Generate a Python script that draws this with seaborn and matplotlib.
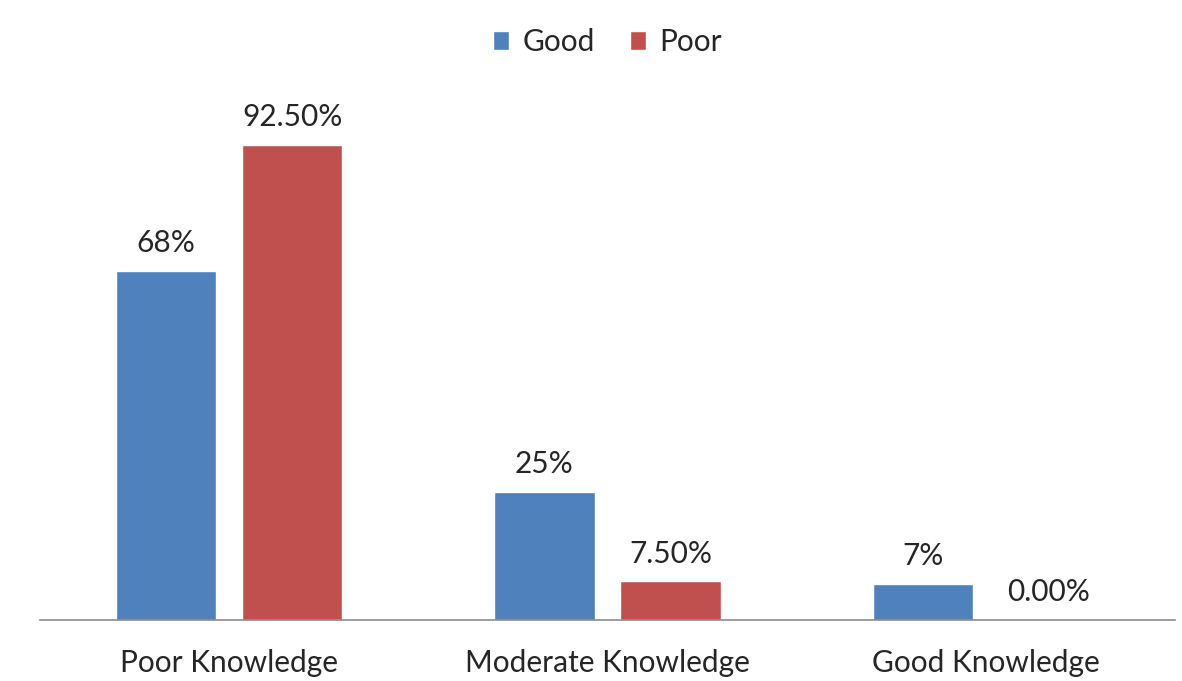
import matplotlib
matplotlib.use("Agg")
import matplotlib.pyplot as plt
import seaborn as sns
import pandas as pd

categories = ["Poor Knowledge", "Moderate Knowledge", "Good Knowledge"]
series = ["Good", "Poor"]
good_values = [68, 25, 7]
poor_values = [92.5, 7.5, 0.0]
good_labels = ["68%", "25%", "7%"]
poor_labels = ["92.50%", "7.50%", "0.00%"]

sns.set_theme(style="white")
plt.rcParams["font.family"] = ["Lato", "DejaVu Sans"]

df = pd.DataFrame({
    "category": categories * 2,
    "series": [series[0]] * 3 + [series[1]] * 3,
    "value": good_values + poor_values,
})

fig = plt.figure(figsize=(11.82, 6.81), dpi=100)
ax = fig.add_axes([40 / 1182, 1 - 620 / 681, 1135 / 1182, 513.5 / 681])
sns.barplot(data=df, x="category", y="value", hue="series", order=categories,
            hue_order=series, palette=["#4F81BD", "#C0504D"], width=0.667,
            gap=0.205, saturation=1, ax=ax, legend=True, errorbar=None)

ax.set_ylim(0, 100)
ax.set_xlim(-0.5, 2.5)
FS = 21.5
for cont, labs in zip(ax.containers, [good_labels, poor_labels]):
    ax.bar_label(cont, labels=labs, padding=10, fontsize=FS, color="#262626")

ax.set_xlabel("")
ax.set_ylabel("")
ax.set_yticks([])
ax.tick_params(axis="x", length=0, pad=21, labelsize=FS, labelcolor="#262626")
for s in ["top", "right", "left"]:
    ax.spines[s].set_visible(False)
ax.spines["bottom"].set_color("#8C8C8C")
ax.spines["bottom"].set_linewidth(1.2)

leg = ax.legend(loc="center", bbox_to_anchor=(0.5, (620 - 42) / 513.5),
                ncol=2, frameon=False, fontsize=FS, handlelength=0.56, handleheight=0.56,
                handletextpad=0.45, columnspacing=1.15, borderpad=0)
for t in leg.get_texts():
    t.set_color("#262626")

fig.savefig("out.png", dpi=100)
